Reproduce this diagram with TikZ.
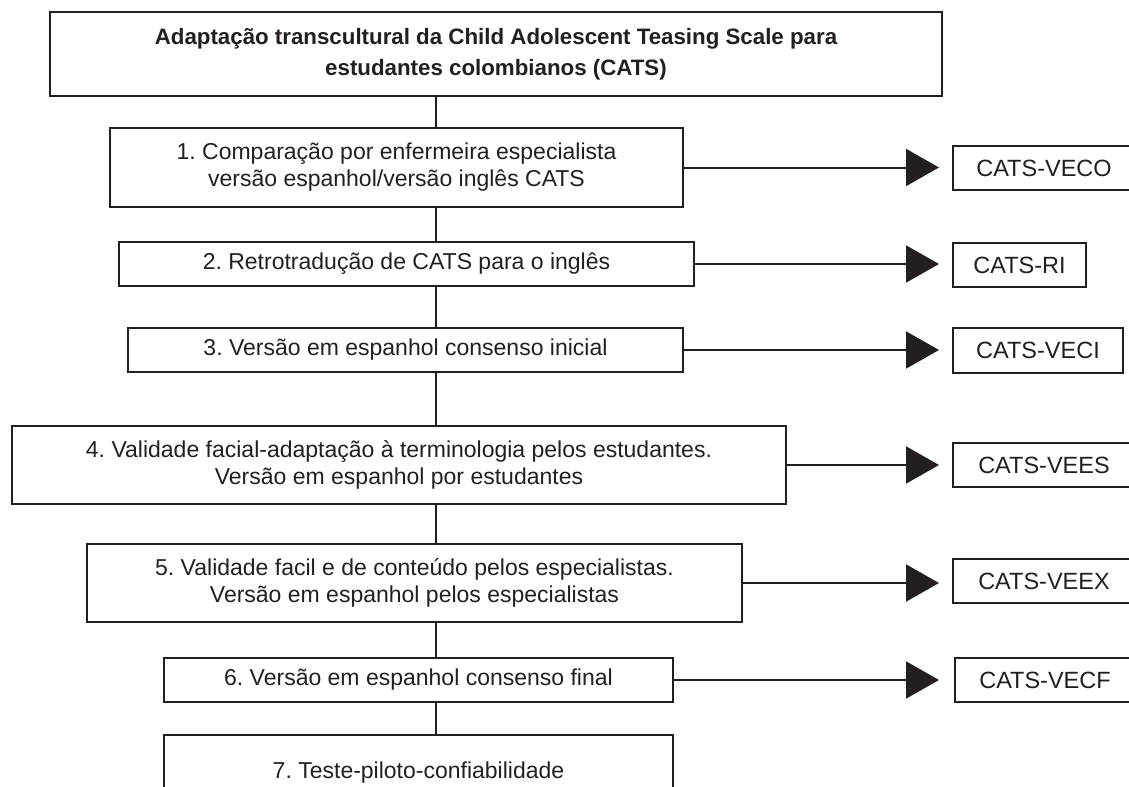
\documentclass[tikz,border=0pt]{standalone}
\usepackage{fontspec}
\setmainfont{Liberation Sans}
\usetikzlibrary{arrows.meta}
\definecolor{ink}{RGB}{35,31,32}
\frenchspacing
\begin{document}
\begin{tikzpicture}[x=1bp,y=-1bp,
  box/.style={draw=ink, line width=2bp, align=center, inner sep=0pt, text=ink,
    font=\fontsize{23bp}{27bp}\selectfont},
  titlebox/.style={box, font=\fontsize{22.3bp}{31bp}\selectfont\bfseries},
  rbox/.style={box, font=\fontsize{23.5bp}{27bp}\selectfont},
  conn/.style={draw=ink, line width=2bp},
  arr/.style={conn, -{Triangle[length=33bp,width=37bp]}, ink}
]
\useasboundingbox (0,0) rectangle (1129,787);
\fill[white] (0,0) rectangle (1129,787);
\coordinate (sp) at (436,0);
\coordinate (tip) at (939,0);

\node[titlebox, minimum width=892bp, minimum height=84bp] (T) at (496,54)
  {Adaptação transcultural da Child Adolescent Teasing Scale para\\estudantes colombianos (CATS)};
\node[box, minimum width=573bp, minimum height=79bp] (B1) at (396.5,167.5)
  {1. Comparação por enfermeira especialista\\versão espanhol/versão inglês CATS};
\node[box, minimum width=575bp, minimum height=44bp] (B2) at (406.5,264)
  {2. Retrotradução de CATS para o inglês};
\node[box, minimum width=555bp, minimum height=44bp] (B3) at (405.5,350)
  {3. Versão em espanhol consenso inicial};
\node[box, minimum width=774bp, minimum height=78bp] (B4) at (399,465)
  {4. Validade facial-adaptação à terminologia pelos estudantes.\\Versão em espanhol por estudantes};
\node[box, minimum width=655bp, minimum height=78bp] (B5) at (414.5,583)
  {5. Validade facil e de conteúdo pelos especialistas.\\Versão em espanhol pelos especialistas};
\node[box, minimum width=509bp, minimum height=44bp] (B6) at (418.5,680)
  {6. Versão em espanhol consenso final};
\node[box, minimum width=509bp, minimum height=76bp] (B7) at (418.5,773)
  {7. Teste-piloto-confiabilidade};

\node[rbox, minimum width=182bp, minimum height=44bp] (R1) at (1044,168) {CATS-VECO};
\node[rbox, minimum width=133bp, minimum height=44bp] (R2) at (1019.5,265) {CATS-RI};
\node[rbox, minimum width=170bp, minimum height=45bp] (R3) at (1038,350.5) {CATS-VECI};
\node[rbox, minimum width=182bp, minimum height=44bp] (R4) at (1044,465) {CATS-VEES};
\node[rbox, minimum width=182bp, minimum height=44bp] (R5) at (1044,581) {CATS-VEEX};
\node[rbox, minimum width=180bp, minimum height=44bp] (R6) at (1045,680) {CATS-VECF};

\draw[conn] (T.south -| sp) -- (B1.north -| sp);
\draw[conn] (B1.south -| sp) -- (B2.north -| sp);
\draw[conn] (B2.south -| sp) -- (B3.north -| sp);
\draw[conn] (B3.south -| sp) -- (B4.north -| sp);
\draw[conn] (B4.south -| sp) -- (B5.north -| sp);
\draw[conn] (B5.south -| sp) -- (B6.north -| sp);
\draw[conn] (B6.south -| sp) -- (B7.north -| sp);

\draw[arr] (B1.east) -- (B1.east -| tip);
\draw[arr] (B2.east) -- (B2.east -| tip);
\draw[arr] (B3.east) -- (B3.east -| tip);
\draw[arr] (B4.east) -- (B4.east -| tip);
\draw[arr] (B5.east) -- (B5.east -| tip);
\draw[arr] (B6.east) -- (B6.east -| tip);
\end{tikzpicture}
\end{document}
